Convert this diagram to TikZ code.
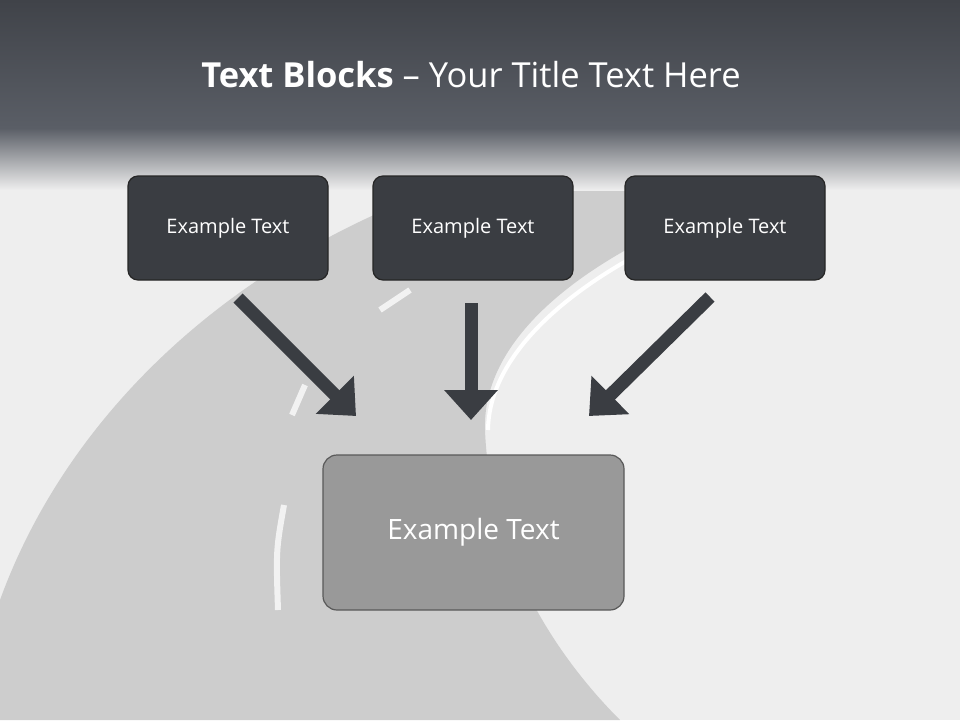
\documentclass[tikz,border=0pt]{standalone}
\usepackage{fontspec}
\setmainfont{Open Sans}
\usetikzlibrary{arrows.meta}
\definecolor{boxdark}{HTML}{3A3D42}
\definecolor{road}{HTML}{CDCDCD}
\definecolor{ground}{HTML}{EEEEEE}
\definecolor{bandtop}{HTML}{404349}
\definecolor{bandbot}{HTML}{5A5E66}
\tikzset{
 topbox/.style={draw=black!85,line width=1.2pt,fill=boxdark,rounded corners=10pt,minimum width=200pt,minimum height=104pt,text=white,font=\fontsize{20}{24}\selectfont},
 bigbox/.style={draw=black!65,line width=1.2pt,fill=black!40,rounded corners=14pt,minimum width=301pt,minimum height=155pt,text=white,font=\fontsize{28}{32}\selectfont},
 blockarrow/.style={draw=boxdark,line width=13pt,-{Triangle[width=52pt,length=30pt]}},
 dash line/.style={white!95!black,line width=6pt}
}
\begin{document}
\begin{tikzpicture}[x=1pt,y=-1pt]
\useasboundingbox (0,0) rectangle (960,720);
\fill[ground] (0,0) rectangle (960,720);
% road
\fill[road] (0,720) -- (0,600) .. controls (80,380) and (300,190) .. (630,140) -- (960,100) -- (960,150) .. controls (750,170) and (480,280) .. (485,430) .. controls (490,560) and (560,660) .. (620,720) -- cycle;
\draw[dash line] (284,505) .. controls (276,550) .. (278,610);
\draw[dash line] (305,385) -- (292,415);
\draw[dash line] (380,310) -- (410,290);
\draw[dash line] (490,240) -- (540,220);
\draw[white,line width=4pt] (960,160) .. controls (760,175) and (490,290) .. (488,430);
% top band
\shade[top color=bandtop,bottom color=bandbot] (0,0) rectangle (960,128);
\shade[top color=bandbot,bottom color=ground] (0,128) rectangle (960,190);
\node[text=white,font=\fontsize{34.5}{38}\selectfont] (title) at (471,75) {\textbf{Text Blocks} – Your Title Text Here};
\node[topbox] (b1) at (228,228) {Example Text};
\node[topbox] (b2) at (473,228) {Example Text};
\node[topbox] (b3) at (725,228) {Example Text};
\node[bigbox] (b4) at (473.5,532.5) {Example Text};
\coordinate (a1s) at (238,298); \coordinate (a1e) at (356,416);
\coordinate (a2s) at (471,303); \coordinate (a2e) at (471,420);
\coordinate (a3s) at (710,297); \coordinate (a3e) at (589,416);
\draw[blockarrow] (a1s) -- (a1e);
\draw[blockarrow] (a2s) -- (a2e);
\draw[blockarrow] (a3s) -- (a3e);
\end{tikzpicture}
\end{document}
